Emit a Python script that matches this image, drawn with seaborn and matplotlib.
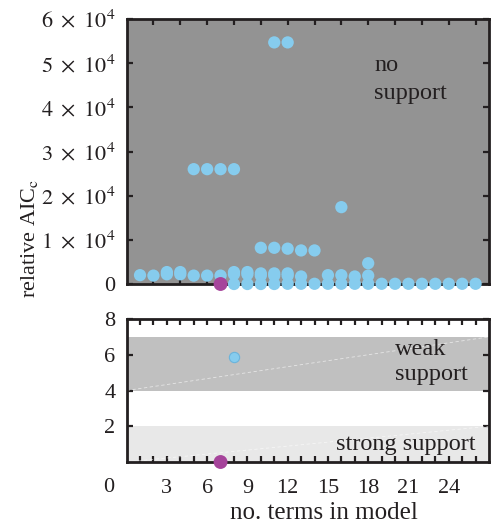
import numpy as np
import pandas as pd
import matplotlib
matplotlib.use("Agg")
import matplotlib.pyplot as plt
import seaborn as sns

# ---- data ----
terms_top = [1, 2, 3, 3, 4, 4, 5, 5, 6, 6, 7, 7,
             8, 8, 8, 8, 9, 9, 9,
             10, 10, 10, 10, 11, 11, 11, 11, 11,
             12, 12, 12, 12, 12, 13, 13, 13, 14, 14,
             15, 15, 16, 16, 16, 17, 17, 18, 18, 18,
             19, 20, 21, 22, 23, 24, 25, 26]
aicc_top = [2000, 1900, 2200, 2700, 2200, 2700, 1900, 26000, 1900, 26000, 1900, 26000,
            2200, 2700, 0, 26000, 2200, 2700, 0,
            1900, 2400, 0, 8200, 1900, 2400, 0, 8200, 54700,
            1900, 2400, 50, 8000, 54700, 1700, 50, 7600, 50, 7600,
            2000, 50, 2000, 50, 17400, 1700, 50, 1900, 50, 4700,
            50, 50, 50, 50, 50, 50, 50, 50]
best_terms = [7]
best_aicc = [0]
weak_terms = [8]
weak_aicc = [5.9]

top_yticks = [0, 10000, 20000, 30000, 40000, 50000, 60000]
top_yticklabels = ["0", r"$1\ \times\ 10^4$", r"$2\ \times\ 10^4$", r"$3\ \times\ 10^4$",
                   r"$4\ \times\ 10^4$", r"$5\ \times\ 10^4$", r"$6\ \times\ 10^4$"]
bot_yticks = [2, 4, 6, 8]
bot_xlabels = [3, 6, 9, 12, 15, 18, 21, 24]

BLUE = "#86ccee"
MAGENTA = "#a6449b"
INK = "#231f20"

sns.set_style("ticks")
plt.rcParams["font.family"] = ["Liberation Serif", "DejaVu Serif"]
plt.rcParams["mathtext.fontset"] = "stix"

fig = plt.figure(figsize=(4.92, 5.26), dpi=100)
W, H = 492, 526
L, R = 126.6, 489
ax1 = fig.add_axes([L / W, 1 - 284 / H, (R - L) / W, (284 - 19) / H])
ax2 = fig.add_axes([L / W, 1 - 462 / H, (R - L) / W, (462 - 319) / H])

df_top = pd.DataFrame({"terms": terms_top, "aicc": aicc_top})
df_best = pd.DataFrame({"terms": best_terms, "aicc": best_aicc})
df_weak = pd.DataFrame({"terms": weak_terms, "aicc": weak_aicc})

TXT = 17.5
TICK = 16

# ---- top panel ----
ax1.set_facecolor("#939393")
sns.scatterplot(data=df_top, x="terms", y="aicc", ax=ax1, color=BLUE, s=78,
                edgecolor="none", linewidth=0, clip_on=False, zorder=3, legend=False)
sns.scatterplot(data=df_best, x="terms", y="aicc", ax=ax1, color=MAGENTA, s=100,
                edgecolor="none", linewidth=0, clip_on=False, zorder=4, legend=False)
ax1.set_xlim(0, 27)
ax1.set_ylim(0, 60000)
ax1.set_xticks(range(2, 27, 2))
ax1.set_xticklabels([])
ax1.set_yticks(top_yticks)
ax1.set_yticklabels(top_yticklabels)
ax1.set_xlabel("")
ax1.set_ylabel("")
ax1.text(18.43, 48200, "no", fontsize=TXT, color=INK, ha="left", va="baseline")
ax1.text(18.43, 41900, "support", fontsize=TXT, color=INK, ha="left", va="baseline")

# ---- bottom panel ----
ax2.axhspan(4, 7, color="#c0c0c0", lw=0, zorder=0)
ax2.axhspan(0, 2, color="#e8e8e8", lw=0, zorder=0)
ax2.plot([0, 27], [4, 7], color="white", lw=0.6, ls=(0, (4, 3)), alpha=0.6, zorder=1)
ax2.plot([0, 27], [0, 2], color="white", lw=0.6, ls=(0, (4, 3)), alpha=0.6, zorder=1)
sns.scatterplot(data=df_weak, x="terms", y="aicc", ax=ax2, color=BLUE, s=55,
                edgecolor="#6ab4dc", linewidth=0.8, clip_on=False, zorder=3, legend=False)
sns.scatterplot(data=df_best, x="terms", y="aicc", ax=ax2, color=MAGENTA, s=100,
                edgecolor="none", linewidth=0, clip_on=False, zorder=4, legend=False)
ax2.set_xlim(0, 27)
ax2.set_ylim(0, 8)
ax2.set_xticks(range(1, 27))
ax2.set_xticklabels([str(i) if i in bot_xlabels else "" for i in range(1, 27)])
ax2.set_yticks(bot_yticks)
ax2.set_yticklabels([str(v) for v in bot_yticks])
ax2.set_ylabel("")
ax2.set_xlabel("no. terms in model", fontsize=18, color=INK)
ax2.xaxis.set_label_coords((324 - L) / (R - L), -0.28)
ax2.text(20.0, 5.99, "weak", fontsize=TXT, color=INK, ha="left", va="baseline")
ax2.text(20.0, 4.59, "support", fontsize=TXT, color=INK, ha="left", va="baseline")
ax2.text(15.6, 0.67, "strong support", fontsize=TXT, color=INK, ha="left", va="baseline")

for ax in (ax1, ax2):
    for sp in ax.spines.values():
        sp.set_linewidth(2.0)
        sp.set_color(INK)
        sp.set_zorder(2.5)
    ax.tick_params(direction="in", length=4, width=1.6, color=INK, labelsize=TICK,
                   labelcolor=INK, top=True, right=True)
    ax.tick_params(axis="y", pad=8)
ax2.tick_params(axis="x", pad=12)

fig.text(109 / W, 1 - 488 / H, "0", fontsize=TICK, color=INK, ha="center", va="center")
fig.text(29 / W, 1 - 238 / H, r"relative AIC$_\mathrm{c}$", fontsize=16, color=INK,
         rotation=90, ha="center", va="center")

fig.savefig("out.png", dpi=100)
